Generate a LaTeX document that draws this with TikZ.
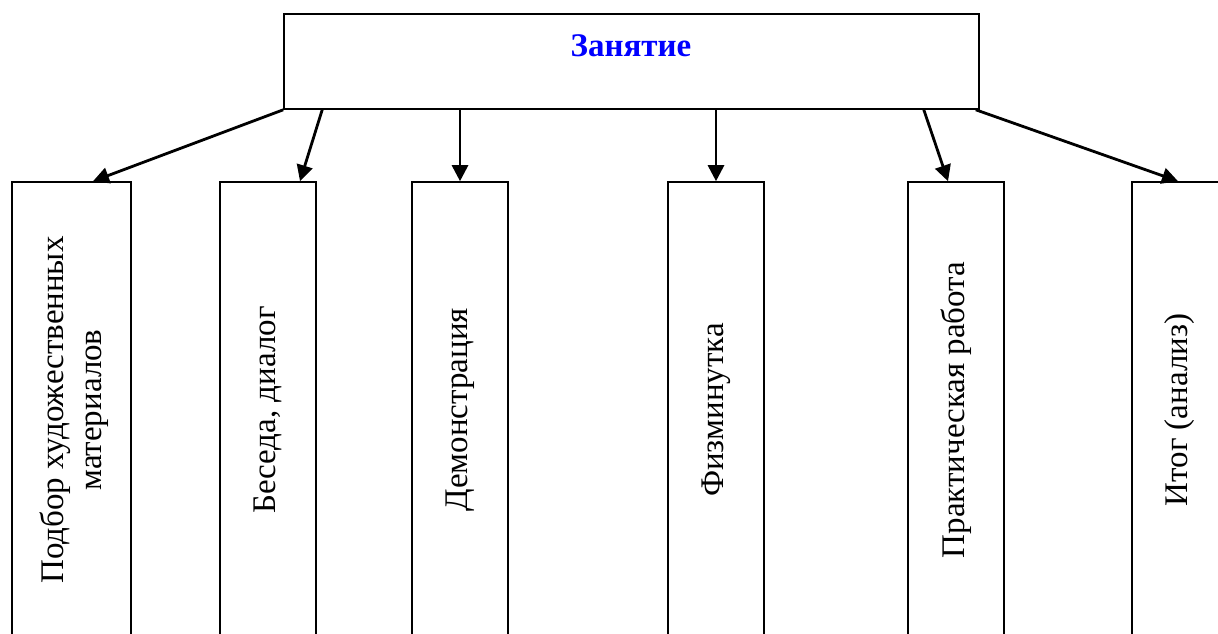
\documentclass[tikz,border=0pt]{standalone}
\usepackage{fontspec}
\setmainfont{Liberation Serif}
\usetikzlibrary{arrows.meta,calc}

\tikzset{
  box/.style={draw,line width=0.8pt,minimum width=48pt,minimum height=228pt,inner sep=0pt},
  lbl/.style={rotate=90,align=center,font=\fontsize{16.5}{19}\selectfont},
  link/.style={-{Triangle[length=8pt,width=8pt]},line width=1.4pt}
}

\begin{document}
\begin{tikzpicture}[x=0.5pt,y=-0.5pt]
    \useasboundingbox (0,0) rectangle (1218,633);
    %Lesson
    \node[draw,line width=0.8pt,minimum width=347.5pt,minimum height=47.5pt,inner sep=0pt] (lesson) at (631.5,61.5) {};
    \node[font=\fontsize{16.5}{19}\selectfont\bfseries,text=blue] (title) at (631,46) {Занятие};
    %Stages
    \node[box,minimum width=59.5pt] (b1) at (71.5,410) {};
    \node[lbl] (t1) at (74,410) {Подбор художественных\\материалов};
    \node[box] (b2) at (268,410) {};
    \node[lbl] (t2) at (b2.center) {Беседа, диалог};
    \node[box] (b3) at (460,410) {};
    \node[lbl] (t3) at (b3.center) {Демонстрация};
    \node[box] (b4) at (716,410) {};
    \node[lbl] (t4) at (b4.center) {Физминутка};
    \node[box] (b5) at (956,410) {};
    \node[lbl] (t5) at (b5.center) {Практическая работа};
    \node[box] (b6) at (1180,410) {};
    \node[lbl] (t6) at (b6.center) {Итог (анализ)};
    %Arrows
    \draw[link] (lesson.south west) -- ($(b1.north)+(21.5,0)$);
    \draw[link] ($(lesson.south west)+(39,0)$) -- ($(b2.north)+(32,0)$);
    \draw[link] (b3.north |- lesson.south) -- (b3.north);
    \draw[link] (b4.north |- lesson.south) -- (b4.north);
    \draw[link] ($(lesson.south east)+(-56,0)$) -- ($(b5.north)+(-8,0)$);
    \draw[link] ($(lesson.south east)+(-4,0)$) -- ($(b6.north)+(-2,0)$);
\end{tikzpicture}
\end{document}
